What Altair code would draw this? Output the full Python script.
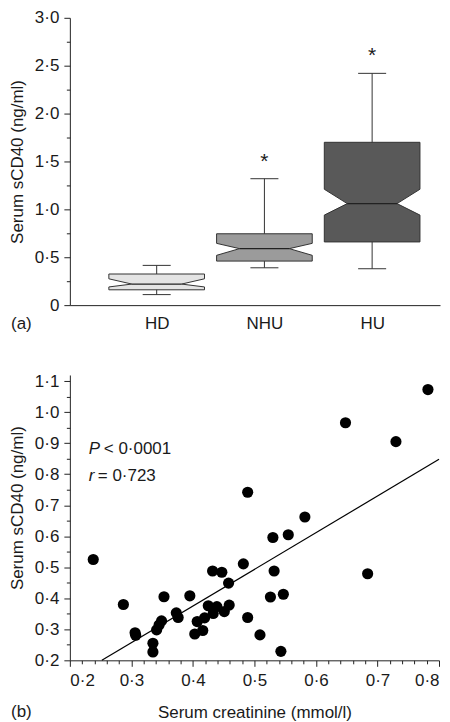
import json
import altair as alt
import pandas as pd

# ---------------- Panel (a): notched box plots ----------------
CATEGORIES = ["HD", "NHU", "HU"]
WHISK_LO = [0.11, 0.39, 0.38]
Q1 = [0.16, 0.46, 0.66]
NOTCH_LO = [0.19, 0.52, 0.94]
MEDIAN = [0.22, 0.59, 1.06]
NOTCH_HI = [0.275, 0.645, 1.21]
Q3 = [0.325, 0.745, 1.70]
WHISK_HI = [0.415, 1.32, 2.42]
SIGNIF = ["", "*", "*"]
FILLS = ["#e4e4e4", "#9b9b9b", "#595959"]

Y_A_MAJOR = [0, 0.5, 1.0, 1.5, 2.0, 2.5, 3.0]
Y_A_MINOR = [0.25, 0.75, 1.25, 1.75, 2.25, 2.75]

# ---------------- Panel (b): scatter ----------------
CREATININE = [0.238, 0.287, 0.306, 0.307, 0.335, 0.335, 0.341, 0.345, 0.349, 0.353,
              0.373, 0.376, 0.395, 0.403, 0.407, 0.416, 0.419, 0.425, 0.432, 0.433,
              0.439, 0.447, 0.451, 0.458, 0.459, 0.482, 0.489, 0.489, 0.509, 0.526,
              0.530, 0.532, 0.543, 0.547, 0.555, 0.582, 0.648, 0.684, 0.730, 0.782]
SCD40 = [0.525, 0.380, 0.289, 0.281, 0.255, 0.227, 0.298, 0.314, 0.327, 0.405,
         0.353, 0.338, 0.408, 0.285, 0.325, 0.296, 0.337, 0.376, 0.488, 0.351,
         0.373, 0.484, 0.357, 0.449, 0.378, 0.511, 0.742, 0.338, 0.282, 0.404,
         0.596, 0.488, 0.229, 0.413, 0.605, 0.662, 0.966, 0.479, 0.905, 1.073]
FIT_X = [0.252, 0.80]
FIT_Y = [0.20, 0.848]
X_B_MAJOR = [0.2, 0.3, 0.4, 0.5, 0.6, 0.7, 0.8]
X_B_MINOR = [round(0.2 + 0.02 * i, 2) for i in range(31) if i % 5 != 0]
Y_B_MAJOR = [0.2, 0.3, 0.4, 0.5, 0.6, 0.7, 0.8, 0.9, 1.0, 1.1]
Y_B_MINOR = [0.25, 0.35, 0.45, 0.55, 0.65, 0.75, 0.85, 0.95, 1.05]
STAT_P = ("P", "< 0·0001")
STAT_R = ("r", "= 0·723")

# ---------------- styling ----------------
FONT = "Liberation Sans"
FS = 17
INK = "#1a1a1a"
W_A, H_A = 371, 288
W_B, H_B = 370, 286
HALF = 0.444      # box half width (x units)
INNER = 0.231     # half width at the notch
CAP = 0.13        # whisker cap half width

DOT_EXPR = "datum.value == 0 ? '0' : replace(format(datum.value, '.1f'), '.', '·')"

box = pd.DataFrame({
    "cat": CATEGORIES, "pos": list(range(len(CATEGORIES))),
    "lo": WHISK_LO, "q1": Q1, "nlo": NOTCH_LO, "med": MEDIAN,
    "nhi": NOTCH_HI, "q3": Q3, "hi": WHISK_HI, "sig": SIGNIF,
})

# polygon outline of each notched box, walked around its vertices
rows = []
for i, c in enumerate(CATEGORIES):
    verts = [(-HALF, Q1[i]), (-HALF, NOTCH_LO[i]), (-INNER, MEDIAN[i]), (-HALF, NOTCH_HI[i]),
             (-HALF, Q3[i]), (HALF, Q3[i]), (HALF, NOTCH_HI[i]), (INNER, MEDIAN[i]),
             (HALF, NOTCH_LO[i]), (HALF, Q1[i]), (-HALF, Q1[i])]
    for k, (dx, yv) in enumerate(verts):
        rows.append({"cat": c, "x": i + dx, "y": yv, "k": k})
outline = pd.DataFrame(rows)

xa = alt.Scale(domain=[-0.806, 2.63], nice=False, zero=False)
ya = alt.Scale(domain=[0, 3], nice=False, zero=False)

boxes = alt.Chart(outline).mark_line(color="#333", strokeWidth=1, strokeJoin="miter").encode(
    y=alt.Y("y:Q", scale=ya, axis=alt.Axis(values=Y_A_MAJOR, labelExpr=DOT_EXPR, tickSize=6, orient="left",
                                          title="Serum sCD40 (ng/ml)", titlePadding=8, labelPadding=5)),
    x=alt.X("x:Q", scale=xa, axis=alt.Axis(values=list(range(len(CATEGORIES))),
                                          labelExpr=json.dumps(CATEGORIES) + "[datum.value]",
                                          ticks=False, orient="bottom", title=None, labelPadding=10)),
    order="k:Q",
    detail="cat:N",
    fill=alt.Fill("cat:N", scale=alt.Scale(domain=CATEGORIES, range=FILLS), legend=None),
)

base = alt.Chart(box)
whisk_hi = base.mark_rule(color="#333", strokeWidth=1).encode(
    x=alt.X("pos:Q", scale=xa, axis=None),
    y=alt.Y("q3:Q", scale=ya, axis=alt.Axis(values=Y_A_MINOR, labels=False, domain=False, tickSize=3.5,
                                           orient="left", title=None)),
    y2="hi:Q",
)
whisk_lo = base.mark_rule(color="#333", strokeWidth=1).encode(
    x=alt.X("pos:Q", scale=xa, axis=None),
    y=alt.Y("lo:Q", scale=ya, axis=None),
    y2="q1:Q",
)
caps_hi = base.transform_calculate(cl=f"datum.pos - {CAP}", cr=f"datum.pos + {CAP}").mark_rule(
    color="#333", strokeWidth=1).encode(
    x=alt.X("cl:Q", scale=xa, axis=None), x2="cr:Q", y=alt.Y("hi:Q", scale=ya, axis=None))
caps_lo = base.transform_calculate(cl=f"datum.pos - {CAP}", cr=f"datum.pos + {CAP}").mark_rule(
    color="#333", strokeWidth=1).encode(
    x=alt.X("cl:Q", scale=xa, axis=None), x2="cr:Q", y=alt.Y("lo:Q", scale=ya, axis=None))
medline = base.transform_calculate(ml=f"datum.pos - {INNER}", mr=f"datum.pos + {INNER}").mark_rule(
    color="#222", strokeWidth=1.2).encode(
    x=alt.X("ml:Q", scale=xa, axis=None), x2="mr:Q", y=alt.Y("med:Q", scale=ya, axis=None))
stars = base.mark_text(font=FONT, fontSize=21, dy=-11, baseline="alphabetic", color=INK).encode(
    x=alt.X("pos:Q", scale=xa, axis=None), y=alt.Y("hi:Q", scale=ya, axis=None), text="sig:N")
tag_a = alt.Chart(pd.DataFrame({"t": ["(a)"]})).mark_text(
    font=FONT, fontSize=FS, align="left", baseline="middle", color=INK).encode(
    x=alt.value(-59), y=alt.value(H_A + 19), text="t:N")

panel_a = alt.layer(boxes, whisk_hi, whisk_lo, caps_hi, caps_lo, medline, stars, tag_a).resolve_axis(
    x="independent", y="independent").properties(width=W_A, height=H_A)

# ---------------- panel (b) ----------------
pts = pd.DataFrame({"creat": CREATININE, "scd": SCD40})
fit = pd.DataFrame({"creat": FIT_X, "scd": FIT_Y})
xb = alt.Scale(domain=[0.2, 0.8], nice=False, zero=False)
yb = alt.Scale(domain=[0.2, 1.12], nice=False, zero=False)

scatter = alt.Chart(pts).mark_circle(size=125, color="black", opacity=1).encode(
    x=alt.X("creat:Q", scale=xb, axis=alt.Axis(values=X_B_MAJOR, labelExpr=DOT_EXPR, tickSize=6, orient="bottom",
                                              title="Serum creatinine (mmol/l)", labelPadding=6, titlePadding=16)),
    y=alt.Y("scd:Q", scale=yb, axis=alt.Axis(values=Y_B_MAJOR, labelExpr=DOT_EXPR, tickSize=6, orient="left",
                                            title="Serum sCD40 (ng/ml)", titlePadding=8, labelPadding=5,
                                            titleY=H_B / 2 - 10)),
)
line = alt.Chart(fit).mark_line(color="black", strokeWidth=1.2).encode(
    x=alt.X("creat:Q", scale=xb, axis=alt.Axis(values=X_B_MINOR, labels=False, domain=False, tickSize=3.5,
                                              orient="bottom", title=None)),
    y=alt.Y("scd:Q", scale=yb, axis=alt.Axis(values=Y_B_MINOR, labels=False, domain=False, tickSize=3.5,
                                            orient="left", title=None)),
)
fy_p = round(H_B * 0.26)
fy_r = round(H_B * 0.354)
p1 = alt.Chart(pd.DataFrame({"t": [STAT_P[0]]})).mark_text(
    font=FONT, fontSize=FS, fontStyle="italic", align="left", baseline="middle", color=INK).encode(
    x=alt.value(19), y=alt.value(fy_p), text="t:N")
p2 = alt.Chart(pd.DataFrame({"t": [STAT_P[1]]})).mark_text(
    font=FONT, fontSize=FS, align="left", baseline="middle", color=INK).encode(
    x=alt.value(34), y=alt.value(fy_p), text="t:N")
r1 = alt.Chart(pd.DataFrame({"t": [STAT_R[0]]})).mark_text(
    font=FONT, fontSize=FS, fontStyle="italic", align="left", baseline="middle", color=INK).encode(
    x=alt.value(19), y=alt.value(fy_r), text="t:N")
r2 = alt.Chart(pd.DataFrame({"t": [STAT_R[1]]})).mark_text(
    font=FONT, fontSize=FS, align="left", baseline="middle", color=INK).encode(
    x=alt.value(28), y=alt.value(fy_r), text="t:N")
tag_b = alt.Chart(pd.DataFrame({"t": ["(b)"]})).mark_text(
    font=FONT, fontSize=FS, align="left", baseline="middle", color=INK).encode(
    x=alt.value(-59), y=alt.value(H_B + 52), text="t:N")

panel_b = alt.layer(scatter, line, p1, p2, r1, r2, tag_b).resolve_axis(
    x="independent", y="independent").properties(width=W_B, height=H_B)

chart = alt.vconcat(panel_a, panel_b, spacing=40).configure_view(stroke=None).configure_axis(
    grid=False, labelFont=FONT, labelFontSize=FS, labelColor=INK, titleFont=FONT, titleFontSize=FS,
    titleFontWeight="normal", titleColor=INK, domainColor="#222", tickColor="#222",
    domainWidth=1, tickWidth=1,
).properties(padding={"left": 0, "top": 0, "right": 0, "bottom": 0})

chart.save("out.html", embed_options={"renderer": "svg", "actions": False})
